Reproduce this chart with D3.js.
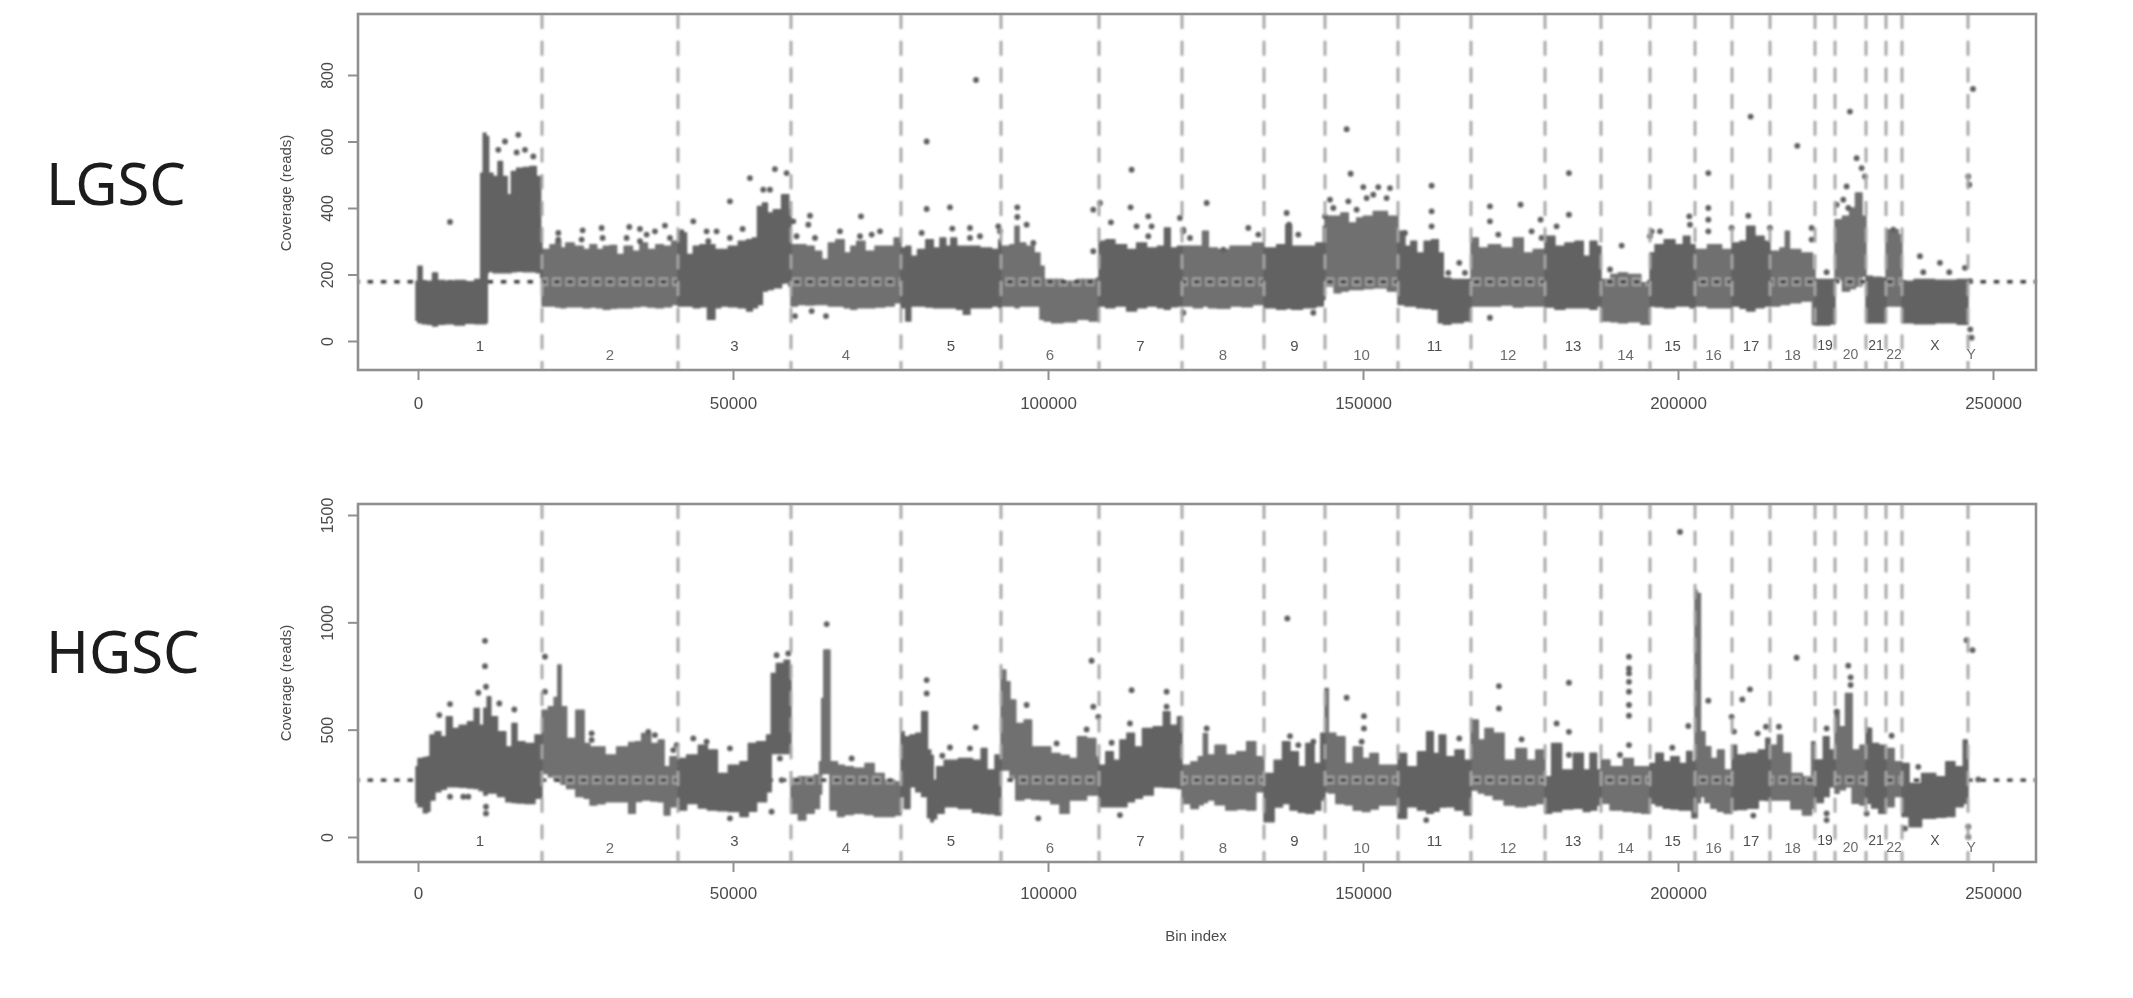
<!DOCTYPE html>
<html><head><meta charset="utf-8">
<script src="https://cdnjs.cloudflare.com/ajax/libs/d3/7.8.5/d3.min.js"></script>
<style>html,body{margin:0;padding:0;background:#fff;overflow:hidden}svg{display:block}</style>
</head><body><svg id="c" width="2133" height="998"></svg>
<script>
const chromNames=["1","2","3","4","5","6","7","8","9","10","11","12","13","14","15","16","17","18","19","20","21","22","X","Y"];
const chromEnds=[19683,41270,59206,76667,92540,108095,121270,134286,143968,155556,167143,178889,187778,195556,202698,208571,214603,221746,224921,229841,233016,235556,246032,247000];
const xTicks=[0,50000,100000,150000,200000,250000];
const lgscTicks=[0,200,400,600,800];
const hgscTicks=[0,500,1000,1500];
const lgscBaseline=178, hgscBaseline=265;

// [bin, upper edge of the point cloud, lower edge of the point cloud]
const lgscProfile=[
[-320,180,62],[300,225,55],[1000,180,52],[1900,180,50],[2700,205,45],[3500,182,50],[5000,180,52],[6600,182,48],[8200,178,53],[9800,185,52],[10100,505,52],[10600,625,52],[11003,615,55],[11003,615,205],[11426,505,210],[12378,495,205],[13013,540,205],[13807,495,205],[14494,440,205],[15129,510,208],[16187,520,210],[17245,522,208],[18303,525,208],[19255,495,205],[19680,340,190],
[20419,275,105],[21477,290,105],[22270,300,102],[23064,280,100],[23858,295,103],[25709,285,103],[26767,275,100],[27825,290,102],[28883,275,100],[29941,285,95],[30999,287,98],[32057,260,100],[33380,285,100],[34702,270,103],[35760,295,105],[37083,275,102],[38405,290,100],[39463,285,103],[41050,300,110],
[42108,325,105],[43166,260,105],[44224,285,100],[45282,290,103],[46605,290,65],[47663,275,100],[48456,275,105],[50043,285,103],[51630,300,100],[52688,305,90],[53482,310,100],[54275,405,110],[55069,415,150],[55863,385,155],[56920,395,160],[58507,440,175],[59200,395,165],
[59577,290,105],[60900,290,110],[62222,285,108],[63545,270,110],[64603,245,110],[65661,295,105],[66983,305,105],[68306,265,100],[69099,285,95],[70157,300,100],[71744,270,100],[73331,285,102],[74918,285,105],[76241,310,115],
[77034,280,100],[77828,285,60],[78621,255,105],[79944,275,105],[81266,305,102],[82324,280,100],[83382,310,100],[84176,285,100],[84969,310,100],[86027,285,95],[87085,285,80],[88143,285,100],[90259,280,100],[91846,275,105],[92500,305,100],
[93433,285,105],[94491,290,105],[95020,345,100],[95814,295,105],[97136,285,105],[98459,265,105],[98988,225,65],[99781,185,60],[101368,185,55],[103484,180,58],[105600,185,65],[107452,185,60],[107981,190,60],
[108510,300,105],[109832,305,100],[111419,290,105],[113535,275,90],[114593,295,100],[116709,280,105],[118031,285,100],[118931,340,95],[119883,280,103],[121205,285,105],
[122010,285,105],[124126,285,100],[124920,330,105],[125978,280,100],[127829,275,98],[129945,285,105],[131532,285,103],[133384,295,110],
[135235,280,100],[137351,290,95],[138145,350,98],[139203,285,95],[141583,285,100],[143435,295,105],[143963,345,125],
[144757,375,165],[146080,375,145],[146873,385,150],[148460,355,155],[149518,370,155],[150576,375,158],[152692,390,160],[155073,375,150],
[156130,330,110],[157189,285,105],[157982,300,105],[159040,265,100],[160363,300,98],[161421,305,95],[162478,265,55],[163007,190,50],[164859,185,55],[166975,185,60],
[167769,310,105],[168827,280,105],[170943,290,105],[172794,280,108],[174910,310,102],[175968,265,105],[178084,275,105],
[179671,315,102],[181258,285,95],[182845,295,100],[184444,300,100],[185502,255,100],[186560,300,95],[187700,285,105],
[188676,185,60],[189999,200,58],[191057,205,55],[192908,200,58],[195289,175,50],
[195818,265,105],[196876,290,103],[198727,305,100],[200314,290,105],[201372,315,105],[202430,290,100],
[203488,275,105],[205868,290,100],[207985,275,100],
[209307,295,105],[210365,300,98],[211423,345,90],[213010,315,100],[214333,300,105],
[215655,270,105],[216713,280,110],[217348,330,110],[218036,275,115],[220945,265,120],
[221738,215,50],[223325,185,48],[224900,185,52],
[225441,365,185],[226764,375,150],[227716,400,158],[228616,445,165],[229800,375,195],
[230202,195,55],[231525,192,55],[233000,190,55],
[233377,335,105],[234435,335,105],[235494,320,105],
[236021,180,55],[238931,185,52],[242634,183,55],[246000,185,50]];
const lgscOutliers=[
[5078,358],[13807,600],[15922,620],[12749,575],[15658,567],[16981,575],[18303,555],[22270,325],[22270,305],[26132,333],[25974,305],[29148,340],[29307,310],[33539,343],[33115,310],[35231,337],[37612,330],[39198,347],[36289,320],[35231,300],[39992,310],[41844,327],[43695,360],[45811,330],[47398,330],[49514,420],[52688,490],[51524,337],[56656,517],[58507,505],[54804,455],[55863,455],[49514,310],[46076,300],[59565,360],[60094,315],
[80737,600],[80737,397],[84440,402],[79944,325],[84811,338],[87614,340],[87614,310],[89201,315],[92111,345],[92375,330],[70316,375],[62222,377],[61957,350],[63016,310],[66983,330],[70157,315],[73331,330],[72009,320],[64761,75],[62486,90],[59841,75],[95126,402],[95126,373],[96607,350],[97665,295],[107187,395],[108245,415],[107187,270],[109992,357],[113271,515],[113112,402],[114064,345],[115916,375],[116444,345],[115916,315],[120941,370],[121470,330],[88571,785],
[125184,415],[121481,335],[122539,310],[137880,385],[138250,350],[139732,320],[131796,340],[133384,320],[127829,275],[121481,85],[142112,85],[147402,637],[148037,503],[150047,463],[152427,463],[154279,460],[144757,425],[145287,400],[147667,420],[151634,440],[153750,430],[150576,430],[143963,375],[148989,395],[160892,467],[160892,390],[160892,345],[156659,325],[163537,205],[165282,235],[166181,205],[170149,405],[175016,410],[170149,360],[171471,320],[178190,365],[180729,345],[176762,330],[178349,310],[170149,70],[182689,505],[182689,380],
[211529,675],[218935,587],[227293,690],[204811,505],[191057,287],[204811,400],[204811,365],[204811,330],[201795,375],[201901,350],[211159,377],[195818,330],[197140,330],[195553,315],[228351,550],[229145,520],[229675,495],[226764,465],[226235,425],[225177,410],[227028,400],[238403,255],[241576,235],[238932,207],[243057,207],[245544,220],[221209,340],[221209,305],[246072,495],[246231,470],[246390,180],[246602,10],[246390,35],[223589,207],[189205,215],[208514,340],[214597,340],[234171,335],[246825,758]];

const hgscProfile=[
[-320,327,160],[317,366,141],[1375,370,113],[1640,374,120],[2169,475,172],[3227,490,211],[4020,467,222],[4972,560,234],[5872,506,234],[7194,521,232],[8517,537,228],[9310,599,226],[10104,521,215],[10791,600,195],[11162,653,205],[11955,560,205],[13278,490,188],[14600,420,164],[15235,529,160],[16187,444,158],[17774,436,156],[19361,475,180],
[20155,591,296],[21213,607,280],[22006,650,265],[22376,801,258],[23064,607,245],[24122,459,226],[25974,591,188],[26767,436,180],[27825,420,149],[28883,420,155],[30470,382,164],[32586,420,164],[34279,440,110],[34702,444,165],[36289,482,172],[37612,436,168],[38670,452,164],[39463,327,102],[40521,374,141],
[41579,366,126],[43695,382,156],[45282,428,135],[46605,405,126],[48456,296,122],[50043,335,118],[52159,351,95],[52688,436,120],[54804,444,164],[55863,475,211],[56285,762,389],[57449,809,389],[58772,824,389],[59200,731,436],
[59842,273,110],[60900,281,79],[62222,281,110],[63545,289,133],[63915,351,200],[64232,646,296],[64603,871,296],[65290,871,296],[65502,351,126],[65925,351,126],[67248,335,95],[68041,327,105],[70157,320,110],[71744,343,105],[73067,296,95],[74918,265,95],[76399,257,102],
[76770,490,188],[77563,467,133],[78621,475,234],[79415,483,210],[80473,584,188],[81266,405,90],[81531,380,71],[82060,265,85],[82589,327,110],[84440,358,141],[87085,366,133],[88937,358,115],[89836,413,110],[90788,312,108],[92375,382,102],
[92904,778,312],[93698,723,312],[94227,638,273],[95549,529,172],[96872,545,180],[97930,420,175],[99517,420,172],[101368,389,155],[102426,380,110],[104278,366,172],[105071,467,172],[107187,459,195],[107981,374,195],
[108510,335,141],[109832,397,141],[110890,358,141],[111948,452,141],[113112,483,164],[114328,420,180],[115651,506,195],[117767,514,234],[118825,584,232],[119883,521,230],[121205,560,226],
[122010,335,156],[123333,350,133],[124391,374,150],[124920,482,160],[125713,382,172],[127300,428,150],[129152,382,126],[130739,397,130],[132326,444,126],[133648,374,211],
[134971,296,71],[136822,358,140],[137616,444,156],[139203,397,126],[140261,327,115],[141583,436,110],[142906,343,126],[143699,483,172],
[144228,692,211],[144757,483,205],[146609,467,156],[147667,343,150],[149254,420,125],[150576,366,118],[151634,389,130],[153221,335,149],[155073,335,149],
[156130,389,87],[157718,327,141],[159569,397,125],[160627,490,110],[161685,389,120],[162478,475,140],[163801,374,141],[165388,405,125],[166711,358,102],
[167769,545,219],[168827,452,205],[169885,506,195],[171471,483,175],[173323,358,149],[175174,413,141],[176761,358,148],[178084,405,156],
[179142,281,110],[180729,436,118],[182316,312,130],[184444,390,134],[185502,312,118],[186560,390,125],[187618,312,149],
[188147,359,157],[190263,328,126],[192379,366,120],[193437,328,115],[195024,328,110],
[195818,343,157],[197140,390,145],[198198,351,134],[199521,374,130],[200843,343,126],[201901,398,126],[202536,350,90],
[202700,1150,90],[203382,1135,160],[203752,490,188],[204811,421,160],[205604,366,134],[206927,405,120],[207720,312,110],
[208778,428,126],[209836,382,128],[211952,390,134],[213539,405,172],[214333,460,170],
[215391,428,172],[216184,475,172],[216978,390,172],[218829,296,130],[220681,281,102],
[221738,444,134],[222532,359,160],[223590,467,188],[224384,405,234],
[225177,591,204],[225971,514,220],[227187,669,234],[228087,405,157],[229675,428,149],
[230202,506,157],[231261,436,135],[232477,428,110],
[233641,413,141],[234964,351,188],
[236021,343,95],[237344,250,48],[239989,296,87],[241841,281,92],[243163,351,95],[244750,328,141],[245808,452,157],[246000,400,157]];
const hgscOutliers=[
[10633,914],[10633,796],[10791,700],[9575,672],[5078,619],[3385,568],[15288,594],[12907,622],[5078,188],[7194,188],[7988,188],[10791,141],[10791,110],[20155,840],[20155,677],[27561,483],[27561,452],[43695,459],[45811,444],[49514,413],[56127,118],[49514,87],[56920,847],[58772,855],[57449,366],[57714,265],[36554,490],[37612,475],[40521,405],[41050,428],
[64867,992],[80737,731],[80737,669],[88514,511],[84440,417],[83223,379],[87614,413],[106923,821],[107187,607],[107981,560],[113271,684],[118825,677],[118825,607],[113007,529],[110097,439],[106129,501],[101368,436],[98459,87],[111419,102],[96607,615],[68835,366],
[137986,1018],[147402,649],[150153,563],[150153,506],[138409,470],[139732,428],[142112,444],[125184,506],[149783,444],[165282,459],[160034,79],[171579,703],[171579,599],[180729,529],[182689,719],[182689,490],[182689,382],[175174,455],
[192220,840],[192220,785],[192220,762],[192220,723],[192220,677],[192220,615],[192220,565],[192220,428],[190792,382],[199097,416],[201636,517],[204811,635],[210206,641],[211423,688],[208884,491],[208514,560],[212640,483],[213963,514],[216026,514],[218829,835],[227028,798],[227400,744],[227400,708],[223590,506],[225177,584],[230202,498],[233906,472],[238137,327],[211952,100],[223590,110],[223590,79],[229939,110],[245808,917],[246761,871],[247660,268],[246072,48],[246072,0],[236021,40],[200317,1421]];

const svg=d3.select("#c");
const defs=svg.append("defs");
defs.append("filter").attr("id","soft").attr("x","-5%").attr("y","-5%").attr("width","110%").attr("height","110%")
  .append("feGaussianBlur").attr("stdDeviation",0.8);
defs.append("filter").attr("id","softText").attr("x","-5%").attr("y","-5%").attr("width","110%").attr("height","110%")
  .append("feGaussianBlur").attr("stdDeviation",0.5);

const FONT='"Liberation Sans",Arial,sans-serif';
const x=d3.scaleLinear().domain([0,250000]).range([418,1993]);
const darkFill="#626262", lightFill="#6f6f6f", axisGrey="#909090", textGrey="#4c4c4c", sepGrey="#a4a4a4";

function panel(cfg){
  const {id,profile,outliers,baseline,ticks,y,top,bottom,left,right,labelY,labelEvenY,tickLabelY,coverageY}=cfg;
  const root=svg.append("g");
  const g=root.append("g").attr("filter","url(#soft)");
  const area=d3.area().curve(d3.curveStep).x(d=>x(d[0])).y0(d=>y(d[2])).y1(d=>y(d[1]));
  const chroms=chromEnds.map((end,i)=>{
    const start=i?chromEnds[i-1]:-320;
    const pts=profile.filter(d=>d[0]>=start&&d[0]<=end);
    if(!pts.length) return null;
    const f=pts[0],l=pts[pts.length-1];
    return {i,pts:[[start,f[1],f[2]],...pts,[end,l[1],l[2]]]};
  }).filter(Boolean);
  const even=chroms.filter(c=>c.i%2===1), odd=chroms.filter(c=>c.i%2===0);
  defs.append("clipPath").attr("id","even"+id).selectAll("path").data(even).join("path").attr("d",c=>area(c.pts));
  const paint=(sel,data,fill)=>sel.selectAll(null).data(data).join("path").attr("d",c=>area(c.pts))
    .attr("fill",fill).attr("stroke",fill).attr("stroke-width",1.4).attr("stroke-linejoin","round");
  paint(g,even,lightFill);
  const yb=y(baseline);
  // the dotted baseline has a pale halo where it crosses the even chromosomes
  g.append("g").attr("clip-path",`url(#even${id})`).append("line").attr("x1",left).attr("x2",right).attr("y1",yb).attr("y2",yb)
    .attr("stroke","#9c9c9c").attr("stroke-width",9).attr("stroke-dasharray","9.5 3.83").attr("stroke-dashoffset",6);
  g.append("line").attr("x1",left).attr("x2",right).attr("y1",yb).attr("y2",yb)
    .attr("stroke","#3e3e3e").attr("stroke-width",3.4).attr("stroke-dasharray","5.5 7.83").attr("stroke-dashoffset",3.8);
  paint(g,odd,darkFill);
  g.selectAll(".out").data(outliers).join("circle")
    .attr("cx",d=>x(d[0])).attr("cy",d=>y(d[1])).attr("r",2.9).attr("fill","#5e5e5e");
  g.selectAll(".sep").data(chromEnds.slice(0,-1)).join("line")
    .attr("x1",d=>x(d)).attr("x2",d=>x(d)).attr("y1",top).attr("y2",bottom)
    .attr("stroke",sepGrey).attr("stroke-width",2.8).attr("stroke-dasharray","15 11.7");
  const ax=root.append("g").attr("filter","url(#softText)");
  ax.append("rect").attr("x",left).attr("y",top).attr("width",right-left).attr("height",bottom-top)
    .attr("fill","none").attr("stroke",axisGrey).attr("stroke-width",2.6);
  const xa=ax.append("g").attr("transform",`translate(0,${bottom})`)
    .call(d3.axisBottom(x).tickValues(xTicks).tickFormat(d3.format("d")).tickSize(10).tickPadding(0));
  xa.select(".domain").remove();
  xa.selectAll("line").attr("stroke",axisGrey).attr("stroke-width",2);
  xa.selectAll("text").attr("y",tickLabelY-bottom).attr("dy","0.36em").attr("fill",textGrey)
    .attr("font-family",FONT).attr("font-size",17);
  const ya=ax.append("g").attr("transform",`translate(${left},0)`)
    .call(d3.axisLeft(y).tickValues(ticks).tickFormat(d3.format("d")).tickSize(10).tickPadding(0));
  ya.select(".domain").remove();
  ya.selectAll("line").attr("stroke",axisGrey).attr("stroke-width",2);
  ya.selectAll("text").attr("x",0).attr("y",0).attr("dy",0)
    .attr("text-anchor","middle").attr("dominant-baseline","central")
    .attr("transform",`translate(-31,0) rotate(-90)`)
    .attr("fill",textGrey).attr("font-family",FONT).attr("font-size",16);
  ax.append("text").attr("transform",`translate(285,${coverageY}) rotate(-90)`)
    .attr("text-anchor","middle").attr("dominant-baseline","central")
    .attr("fill",textGrey).attr("font-family",FONT).attr("font-size",15).text("Coverage (reads)");
  ax.selectAll(".chr").data(chromNames).join("text")
    .attr("x",(d,i)=>x(((i?chromEnds[i-1]:0)+chromEnds[i])/2))
    .attr("y",(d,i)=>i%2===0?labelY:labelEvenY)
    .attr("text-anchor","middle").attr("dominant-baseline","central")
    .attr("fill",(d,i)=>i%2===0?"#505050":"#6c6c6c").attr("font-family",FONT).attr("font-size",(d,i)=>i<18?15:14)
    .text(d=>d);
}

panel({id:"L",profile:lgscProfile,outliers:lgscOutliers,baseline:lgscBaseline,ticks:lgscTicks,
  y:d3.scaleLinear().domain([0,800]).range([341,75]),
  top:14,bottom:370,left:358,right:2036,labelY:345,labelEvenY:354,tickLabelY:403,coverageY:193});
panel({id:"H",profile:hgscProfile,outliers:hgscOutliers,baseline:hgscBaseline,ticks:hgscTicks,
  y:d3.scaleLinear().domain([0,1500]).range([837,515]),
  top:504,bottom:862,left:358,right:2036,labelY:840,labelEvenY:847,tickLabelY:893,coverageY:683});

svg.append("text").attr("x",1196).attr("y",935).attr("text-anchor","middle").attr("dominant-baseline","central")
  .attr("filter","url(#softText)").attr("fill",textGrey).attr("font-family",FONT).attr("font-size",15).text("Bin index");
svg.append("text").attr("x",46).attr("y",182).attr("dominant-baseline","central")
  .attr("fill","#1c1c1c").attr("font-family",'"Noto Sans",sans-serif').attr("font-size",58).text("LGSC");
svg.append("text").attr("x",46).attr("y",650).attr("dominant-baseline","central")
  .attr("fill","#1c1c1c").attr("font-family",'"Noto Sans",sans-serif').attr("font-size",58).text("HGSC");
</script></body></html>
